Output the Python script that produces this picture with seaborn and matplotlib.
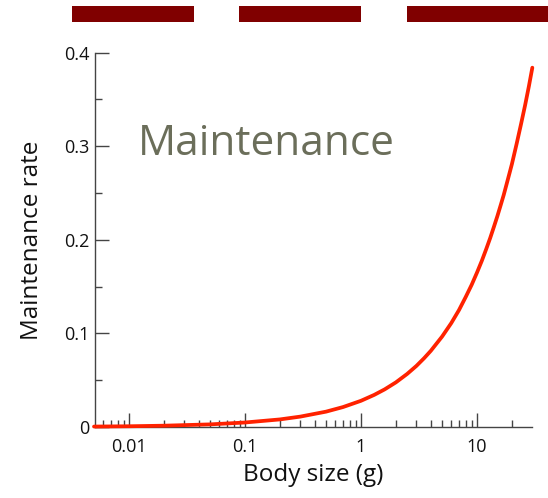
import matplotlib
matplotlib.use("Agg")
import matplotlib.pyplot as plt
import seaborn as sns
import pandas as pd
from matplotlib.patches import Rectangle
from matplotlib.ticker import LogLocator, FixedLocator, NullFormatter

body_size = [0.005, 0.01, 0.02, 0.05, 0.1, 0.2, 0.3, 0.5, 0.7, 1, 1.3, 1.6, 2, 2.5,
             3, 3.5, 4, 5, 6, 7, 8, 9, 10, 11, 12, 13, 14, 15, 16, 17, 18, 19, 20,
             22, 24, 26, 28, 30]
maintenance = [0.00047, 0.0008, 0.0014, 0.0028, 0.0048, 0.0081, 0.0111, 0.0164,
               0.0213, 0.028, 0.0343, 0.0402, 0.0477, 0.0567, 0.0652, 0.0735,
               0.0814, 0.0966, 0.111, 0.125, 0.139, 0.152, 0.165, 0.1775, 0.190,
               0.202, 0.214, 0.2255, 0.237, 0.248, 0.2595, 0.2705, 0.281, 0.303,
               0.324, 0.344, 0.364, 0.384]
x_ticks = [0.01, 0.1, 1, 10]
x_tick_labels = ["0.01", "0.1", "1", "10"]
y_ticks = [0, 0.1, 0.2, 0.3, 0.4]
y_tick_labels = ["0", "0.1", "0.2", "0.3", "0.4"]

df = pd.DataFrame({"size": body_size, "rate": maintenance})

sns.set_style("white")
plt.rcParams["font.family"] = ["Open Sans", "DejaVu Sans"]

fig = plt.figure(figsize=(5.48, 4.98), dpi=100)
ax = fig.add_axes([95 / 548, 1 - 427 / 498, (532 - 95) / 548, (427 - 52.7) / 498])

sns.lineplot(data=df, x="size", y="rate", ax=ax, color="#ff2200", linewidth=2.7,
             clip_on=False, zorder=5)
ax.set_xscale("log")
ax.set_xlim(0.0051, 29.8)
ax.set_ylim(0, 0.4)

spine_col = "#444444"
for s in ["top", "right"]:
    ax.spines[s].set_visible(False)
for s in ["left", "bottom"]:
    ax.spines[s].set_color(spine_col)
    ax.spines[s].set_linewidth(1.0)

ax.set_xticks(x_ticks)
ax.set_xticklabels(x_tick_labels)
ax.xaxis.set_minor_locator(LogLocator(base=10, subs=range(2, 10), numticks=20))
ax.xaxis.set_minor_formatter(NullFormatter())
ax.set_yticks(y_ticks)
ax.set_yticklabels(y_tick_labels)
ax.yaxis.set_minor_locator(FixedLocator([0.05, 0.15, 0.25, 0.35]))

ax.tick_params(axis="both", which="major", direction="in", length=10, width=1,
               color=spine_col, labelsize=13, labelcolor="#111111")
ax.tick_params(axis="both", which="minor", direction="in", length=5, width=1,
               color=spine_col)
ax.tick_params(axis="x", which="major", pad=8)
ax.tick_params(axis="y", which="major", pad=4)
ax.tick_params(axis="y", which="both", left=True)
ax.tick_params(axis="x", which="both", bottom=True)

ax.set_xlabel("Body size (g)", fontsize=17.5, color="#111111", labelpad=5)
ax.set_ylabel("Maintenance rate", fontsize=17.5, color="#111111", labelpad=14)

ax.text(0.097, 0.755, "Maintenance", transform=ax.transAxes, fontsize=30.5,
        color="#6b6e5a", va="center", ha="left")

# decorative bars at top
for x0, x1 in [(72, 194), (239, 361), (407, 560)]:
    fig.add_artist(Rectangle((x0 / 548, 1 - 22 / 498), (x1 - x0) / 548, 16 / 498,
                             transform=fig.transFigure, facecolor="#800000",
                             edgecolor="none"))

fig.savefig("out.png", dpi=100)
